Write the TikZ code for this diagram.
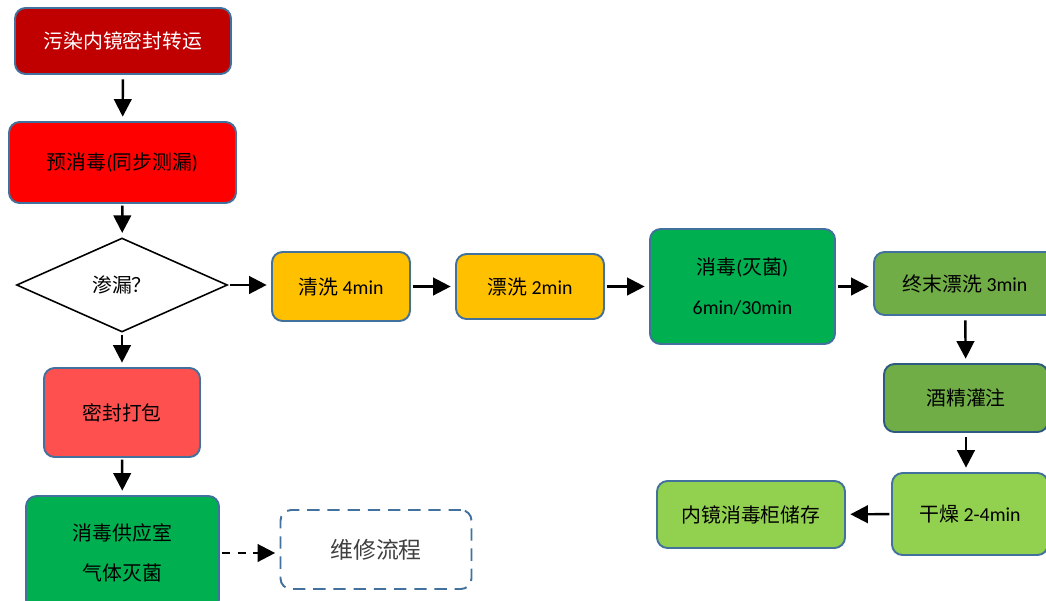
\documentclass[tikz,border=0pt]{standalone}
\usepackage{fontspec}
\setmainfont{Carlito}
\newfontfamily\cjk{Noto Sans CJK SC}
\usetikzlibrary{shapes.geometric, arrows.meta, positioning}
\definecolor{boxline}{HTML}{41719C}
\definecolor{darkline}{HTML}{2F5A80}
\definecolor{wine}{HTML}{C00000}
\definecolor{pink}{HTML}{FF5050}
\definecolor{amber}{HTML}{FFC000}
\definecolor{green}{HTML}{00B050}
\definecolor{olive}{HTML}{70AD47}
\definecolor{lime}{HTML}{92D050}
\newcommand{\zh}[1]{{\cjk #1}}

\begin{document}
\begin{tikzpicture}[
    x=0.02cm, y=-0.02cm,
    font=\fontsize{11.3}{23}\selectfont,
    box/.style={rectangle, rounded corners=6pt, draw=boxline, line width=1.1pt, align=center, inner sep=0pt},
    decision/.style={diamond, draw=black, line width=0.9pt, fill=white, inner sep=0pt, minimum width=4.22cm, minimum height=1.88cm},
    arrow/.style={line width=1.4pt, -{Triangle[length=10pt, width=10pt]}, shorten >=2.5pt, shorten <=1pt}
]
\clip (0,0) rectangle (1046,600);

% left column
\node[box, fill=wine, text=white, minimum width=4.32cm, minimum height=1.32cm] (transport) at (123,41) {\zh{污染内镜密封转运}};
\node[box, fill=red, minimum width=4.54cm, minimum height=1.62cm] (predis) at (122.5,162.5) {\zh{预消毒}(\zh{同步测漏})};
\node[decision] (leak) at (122,285) {\zh{渗漏？}};
\node[box, fill=pink, minimum width=3.12cm, minimum height=1.78cm] (pack) at (122,412.5) {\zh{密封打包}};
\node[box, fill=green, minimum width=3.86cm, minimum height=2.28cm] (supply) at (122.5,553) {\zh{消毒供应室}\\\zh{气体灭菌}};
\node[box, fill=white, dashed, dash pattern=on 7pt off 4.5pt, minimum width=3.82cm, minimum height=1.58cm, text=black!75, font=\fontsize{13}{15}\selectfont] (repair) at (376,549.5) {\zh{维修流程}};

% washing row
\node[box, fill=amber, minimum width=2.76cm, minimum height=1.38cm] (clean) at (341,286.5) {\zh{清洗} 4min};
\node[box, fill=amber, minimum width=2.96cm, minimum height=1.30cm] (rinse) at (530,286.5) {\zh{漂洗} 2min};
\node[box, fill=green, minimum width=3.70cm, minimum height=2.30cm] (disinfect) at (742.5,286.5) {\zh{消毒}(\zh{灭菌})\\6min/30min};
\node[box, fill=olive, minimum width=3.64cm, minimum height=1.26cm] (final) at (965,283.5) {\zh{终末漂洗} 3min};

% right column
\node[box, fill=olive, draw=darkline, minimum width=3.28cm, minimum height=1.36cm] (alcohol) at (966,398) {\zh{酒精灌注}};
\node[box, fill=lime, minimum width=3.12cm, minimum height=1.64cm] (dry) at (970,514) {\zh{干燥} 2-4min};
\node[box, fill=lime, minimum width=3.76cm, minimum height=1.34cm] (store) at (751,514.5) {\zh{内镜消毒柜储存}};

\draw[arrow, shorten <=2.5pt] (transport) -- (predis);
\draw[arrow] (predis) -- (leak);
\draw[arrow] (leak.east) -- (leak.east -| clean.west);
\draw[arrow] (leak) -- (pack);
\draw[arrow] (pack) -- (supply);
\draw[arrow, dash pattern=on 5pt off 4pt] (supply.east) -- (supply.east -| repair.west);
\draw[arrow] (clean) -- (rinse);
\draw[arrow] (rinse) -- (disinfect);
\draw[arrow] (disinfect.east) -- (disinfect.east -| final.west);
\draw[arrow, shorten <=2.5pt] (final) -- (alcohol);
\draw[arrow, shorten <=2.5pt] (alcohol.south) -- (alcohol.south |- dry.north);
\draw[arrow] (dry) -- (store);

\end{tikzpicture}
\end{document}
